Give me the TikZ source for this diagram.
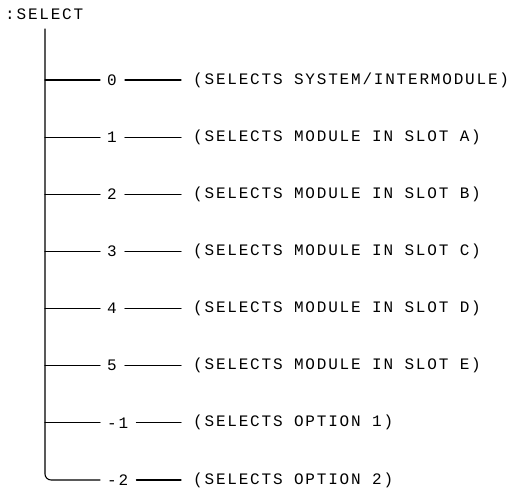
\documentclass[tikz,border=0pt]{standalone}
\usepackage{fontspec}
\newfontfamily\plotfont[LetterSpace=11.3]{Liberation Mono}
\begin{document}
\begin{tikzpicture}[x=1pt,y=-1pt,
  lbl/.style={font=\plotfont\fontsize{16}{17}\selectfont, inner sep=0pt, anchor=west},
  wire/.style={line width=1.1pt, line cap=round}]
\useasboundingbox (0,0) rectangle (511,489);
\node[lbl] (root) at (5,14) {:SELECT};
\coordinate (top) at (45,29);
\def\rowsep{57.14}
% one row per selector value: branch, value, branch, meaning
\foreach \i/\v/\t in {0/0/{(SELECTS SYSTEM/INTERMODULE)},
                      1/1/{(SELECTS MODULE IN SLOT A)},
                      2/2/{(SELECTS MODULE IN SLOT B)},
                      3/3/{(SELECTS MODULE IN SLOT C)},
                      4/4/{(SELECTS MODULE IN SLOT D)},
                      5/5/{(SELECTS MODULE IN SLOT E)},
                      6/-1/{(SELECTS OPTION 1)},
                      7/-2/{(SELECTS OPTION 2)}} {
  \pgfmathsetmacro\yy{80+\i*\rowsep}
  \coordinate (b\i) at (45,\yy);
  \node[lbl] (v\i) at (107,\yy) {\v};
  \node[lbl] (t\i) at (193,\yy) {\t};
  \coordinate (l\i) at ([xshift=-7pt]v\i.west);
  \coordinate (r\i) at (181,\yy);
  \draw[wire] ([xshift=8pt]v\i.east) -- (r\i);
}
\foreach \i in {0,...,6} \draw[wire] (b\i) -- (l\i);
% trunk, turning into the last branch
\draw[wire, rounded corners=6pt] (top) -- (b7) -- (l7);
\end{tikzpicture}
\end{document}
